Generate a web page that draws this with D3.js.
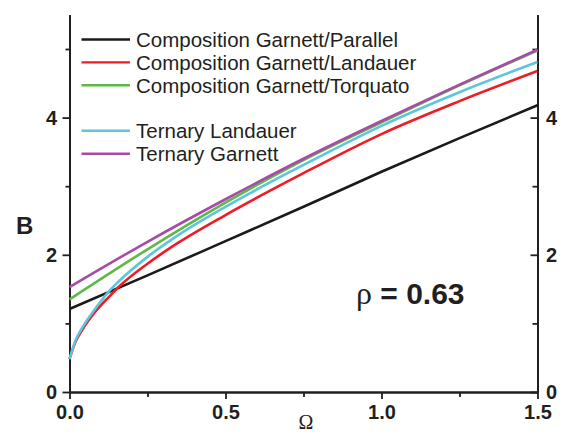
<!DOCTYPE html>
<html>
<head>
<meta charset="utf-8">
<script src="https://cdn.jsdelivr.net/npm/d3@7"></script>
<style>
  body { margin: 0; background: #fff; }
  svg { display: block; }
  .tick text { font-family: "Liberation Sans", Arial, sans-serif; font-weight: bold; font-size: 20px; fill: #231f20; }
  .tick line { stroke: #231f20; stroke-width: 1.8px; }
  .domain { stroke: #231f20; stroke-width: 2px; }
</style>
</head>
<body>
<div id="chart"></div>
<script>
// omega values and B values
var omegaSqrt = [0, 0.02, 0.04, 0.09, 0.125, 0.155, 0.25, 0.35, 0.5, 0.75, 1.0, 1.25, 1.5];
var omegaLin = [0, 0.25, 0.5, 0.75, 1.0, 1.25, 1.5];

var parallelB = [1.21, 1.70, 2.20, 2.70, 3.21, 3.70, 4.18];
var landauerB = [0.48, 0.74, 0.90, 1.21, 1.38, 1.52, 1.87, 2.18, 2.58, 3.19, 3.76, 4.24, 4.68];
var torquatoB = [1.35, 2.08, 2.76, 3.38, 3.93, 4.47, 4.98];
var ternLandB = [0.48, 0.76, 0.93, 1.26, 1.46, 1.60, 1.97, 2.29, 2.70, 3.31, 3.88, 4.37, 4.81];
var ternGarnB = [1.53, 2.19, 2.81, 3.40, 3.95, 4.48, 4.99];

var seriesNames = ["Composition Garnett/Parallel", "Composition Garnett/Landauer",
  "Composition Garnett/Torquato", "Ternary Landauer", "Ternary Garnett"];
var seriesColors = ["#1a1a1a", "#ee1c24", "#5db847", "#5cc6dc", "#a64ca6"];

var xMajor = [0, 0.5, 1.0, 1.5];
var xMinor = [0.25, 0.75, 1.25];
var yMajor = [0, 2, 4];
var yMinor = [1, 3, 5];

var series = [
  { x: omegaLin, y: parallelB },
  { x: omegaSqrt, y: landauerB },
  { x: omegaLin, y: torquatoB },
  { x: omegaSqrt, y: ternLandB },
  { x: omegaLin, y: ternGarnB }
];

var W = 563, H = 435;
var svg = d3.select('#chart').append('svg')
  .attr('width', W)
  .attr('height', H);

var x = d3.scaleLinear().domain([0, 1.5]).range([69.5, 537.5]);
var y = d3.scaleLinear().domain([0, 5.5]).range([392, 14.7]);

//AXES
svg.append('g').attr('transform', 'translate(0,392)')
  .call(d3.axisBottom(x).tickValues(xMinor).tickSize(5).tickSizeOuter(0).tickFormat(''));
svg.append('g').attr('transform', 'translate(0,392)')
  .call(d3.axisBottom(x).tickValues(xMajor).tickSize(7).tickSizeOuter(0).tickPadding(6).tickFormat(d3.format('.1f')));

svg.append('g').attr('transform', 'translate(69.5,0)')
  .call(d3.axisLeft(y).tickValues(yMinor).tickSize(4).tickSizeOuter(0).tickFormat(''));
svg.append('g').attr('transform', 'translate(69.5,0)')
  .call(d3.axisLeft(y).tickValues(yMajor).tickSize(7).tickSizeOuter(0).tickPadding(5.5).tickFormat(d3.format('d')));

svg.append('g').attr('transform', 'translate(537.5,0)')
  .call(d3.axisRight(y).tickValues(yMinor).tickSize(-5).tickSizeOuter(0).tickFormat(''));
svg.append('g').attr('transform', 'translate(537.5,0)')
  .call(d3.axisRight(y).tickValues(yMajor).tickSize(-7).tickSizeOuter(0).tickPadding(8.5).tickFormat(d3.format('d')));

//CURVES
var line = d3.line().curve(d3.curveMonotoneX);
series.forEach(function (s, i) {
  var pts = s.x.map(function (v, j) { return [x(v), y(s.y[j])]; });
  svg.append('path')
    .attr('d', line(pts))
    .attr('fill', 'none')
    .attr('stroke', seriesColors[i])
    .attr('stroke-width', 2.6);
});

//LEGEND
seriesNames.forEach(function (name, i) {
  var ly = 39.5 + i * 22.9 + (i >= 3 ? 22.6 : 0);
  svg.append('line')
    .attr('x1', 81.5).attr('x2', 130)
    .attr('y1', ly).attr('y2', ly)
    .attr('stroke', seriesColors[i])
    .attr('stroke-width', 2.4);
  svg.append('text')
    .attr('x', 136).attr('y', ly + 7.3)
    .attr('font-family', '"Liberation Sans", Arial, sans-serif')
    .attr('font-size', '20.5px')
    .attr('fill', '#231f20')
    .text(name);
});

//LABELS
svg.append('text')
  .attr('x', 16).attr('y', 234)
  .attr('font-family', '"Liberation Sans", Arial, sans-serif')
  .attr('font-weight', 'bold')
  .attr('font-size', '24px')
  .attr('fill', '#231f20')
  .text('B');

svg.append('text')
  .attr('x', 306).attr('y', 429)
  .attr('text-anchor', 'middle')
  .attr('font-family', '"Liberation Serif", "Times New Roman", serif')
  .attr('font-size', '20px')
  .attr('fill', '#231f20')
  .text('Ω');

var rho = svg.append('text')
  .attr('x', 356).attr('y', 304)
  .attr('fill', '#231f20');
rho.append('tspan')
  .attr('font-family', '"Liberation Serif", "Times New Roman", serif')
  .attr('font-size', '32px')
  .text('ρ');
rho.append('tspan')
  .attr('font-family', '"Liberation Sans", Arial, sans-serif')
  .attr('font-weight', 'bold')
  .attr('font-size', '30px')
  .text(' = 0.63');
</script>
</body>
</html>
